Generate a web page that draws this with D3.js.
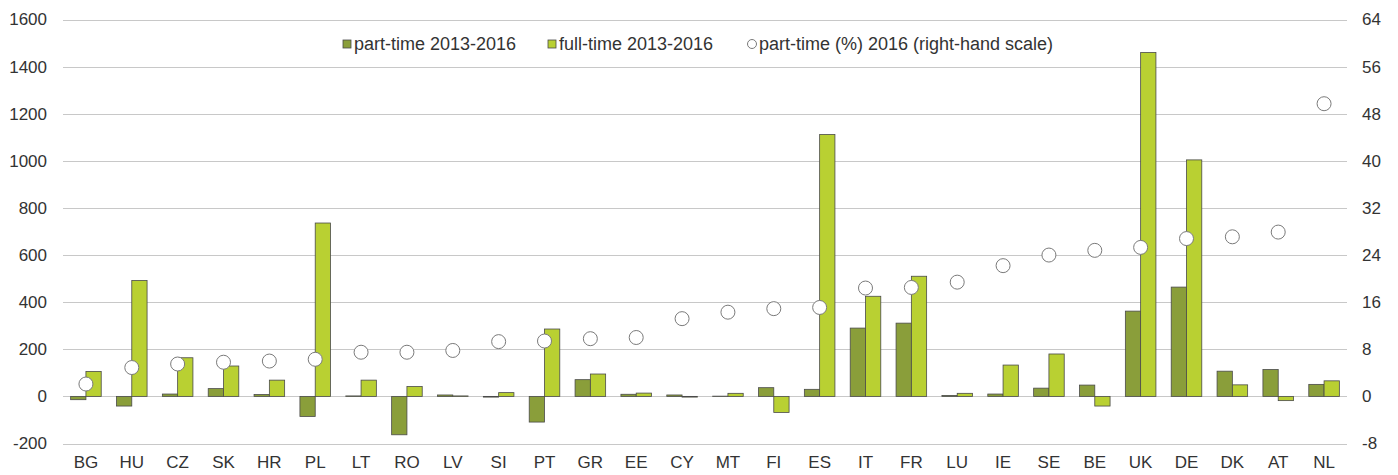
<!DOCTYPE html>
<html>
<head>
<meta charset="utf-8">
<script src="https://cdn.jsdelivr.net/npm/d3@7"></script>
<style>
  body { margin: 0; background: #fff; }
  text { font-family: "Liberation Sans", Arial, sans-serif; fill: #333; }
</style>
</head>
<body>
<div id="chart"></div>
<script>
// categories and series
var countries = ["BG", "HU", "CZ", "SK", "HR", "PL", "LT", "RO", "LV", "SI", "PT", "GR", "EE", "CY",
    "MT", "FI", "ES", "IT", "FR", "LU", "IE", "SE", "BE", "UK", "DE", "DK", "AT", "NL"];
var partTime = [-14, -41, 10, 33, 8, -85, 2, -163, 6, -3, -109, 71, 9, 6,
    1, 37, 30, 290, 311, 4, 10, 35, 48, 362, 464, 107, 114, 51];
var fullTime = [106, 492, 164, 129, 69, 736, 69, 42, 2, 16, 286, 95, 14, -3,
    13, -68, 1112, 425, 510, 13, 133, 180, -41, 1460, 1004, 49, -18, 66];
var partShare = [2.1, 4.9, 5.5, 5.8, 6.0, 6.3, 7.5, 7.5, 7.8, 9.3, 9.4, 9.8, 10.0, 13.2,
    14.3, 14.9, 15.1, 18.4, 18.5, 19.4, 22.2, 24.0, 24.8, 25.3, 26.8, 27.1, 27.9, 49.7];
var leftTicks = [-200, 0, 200, 400, 600, 800, 1000, 1200, 1400, 1600];
var rightTicks = [-8, 0, 8, 16, 24, 32, 40, 48, 56, 64];
var seriesNames = ["part-time 2013-2016", "full-time 2013-2016", "part-time (%) 2016 (right-hand scale)"];

var W = 1398, H = 475;
var mLeft = 63, mRight = 1347, mTop = 19.5, mBottom = 443.5;
var colors = { part: "#8a9e3a", full: "#b9d032" };

var svg = d3.select("#chart").append("svg").attr("width", W).attr("height", H);

var x = d3.scaleBand().domain(countries).range([mLeft, mRight]).paddingInner(1 / 3).paddingOuter(1 / 6);
var x1 = d3.scaleBand().domain(["part", "full"]).range([0, x.bandwidth()]);
var y = d3.scaleLinear().domain([-200, 1600]).range([mBottom, mTop]);
var y2 = d3.scaleLinear().domain([-8, 64]).range([mBottom, mTop]);

// gridlines
svg.append("g").selectAll("line").data(leftTicks).enter().append("line")
    .attr("x1", mLeft).attr("x2", mRight)
    .attr("y1", function (d) { return Math.round(y(d)) + 0.5; })
    .attr("y2", function (d) { return Math.round(y(d)) + 0.5; })
    .attr("stroke", "#c8c8c8").attr("stroke-width", 1);

// left axis (plain hyphen for negatives, like the original)
var ya = svg.append("g").attr("transform", "translate(" + (mLeft - 16) + ",0)")
    .call(d3.axisLeft(y).tickValues(leftTicks).tickFormat(String).tickSize(0).tickPadding(0));
ya.select(".domain").remove();
ya.selectAll("text").style("font-size", "17px").attr("fill", "#333").attr("font-family", null);

// right axis
var yb = svg.append("g").attr("transform", "translate(" + (mRight + 15) + ",0)")
    .call(d3.axisRight(y2).tickValues(rightTicks).tickFormat(String).tickSize(0).tickPadding(0));
yb.select(".domain").remove();
yb.selectAll("text").style("font-size", "17px").attr("fill", "#333").attr("font-family", null);

// x labels
var xa = svg.append("g").attr("transform", "translate(0," + (mBottom + 12) + ")")
    .call(d3.axisBottom(x).tickSize(0).tickPadding(0));
xa.select(".domain").remove();
xa.selectAll("text").style("font-size", "17px").attr("fill", "#333").attr("font-family", null);

// bars
var rows = countries.map(function (c, i) {
    return { c: c, part: partTime[i], full: fullTime[i], share: partShare[i] };
});

var groups = svg.append("g").selectAll("g").data(rows).enter().append("g")
    .attr("transform", function (d) { return "translate(" + x(d.c) + ",0)"; });

groups.selectAll("rect").data(function (d) {
    return [{ k: "part", v: d.part }, { k: "full", v: d.full }];
}).enter().append("rect")
    .attr("x", function (d) { return x1(d.k); })
    .attr("width", x1.bandwidth())
    .attr("y", function (d) { return y(Math.max(0, d.v)); })
    .attr("height", function (d) { return Math.abs(y(d.v) - y(0)); })
    .attr("fill", function (d) { return colors[d.k]; })
    .attr("stroke", "#4a4a4a").attr("stroke-width", 0.8);

// circles on right-hand scale
svg.append("g").selectAll("circle").data(rows).enter().append("circle")
    .attr("cx", function (d) { return x(d.c) + x.bandwidth() / 2; })
    .attr("cy", function (d) { return y2(d.share); })
    .attr("r", 7)
    .attr("fill", "#fff").attr("stroke", "#7a7a7a").attr("stroke-width", 1);

// legend
var legend = svg.append("g").attr("transform", "translate(0,44)");
var lx = [343, 548, 748];
legend.append("rect").attr("x", lx[0]).attr("y", -4).attr("width", 8).attr("height", 8)
    .attr("fill", colors.part).attr("stroke", "#4a4a4a").attr("stroke-width", 0.8);
legend.append("rect").attr("x", lx[1]).attr("y", -4).attr("width", 8).attr("height", 8)
    .attr("fill", colors.full).attr("stroke", "#4a4a4a").attr("stroke-width", 0.8);
legend.append("circle").attr("cx", lx[2] + 4).attr("cy", 0).attr("r", 4.5)
    .attr("fill", "#fff").attr("stroke", "#7a7a7a");
legend.selectAll("text").data(seriesNames).enter().append("text")
    .attr("x", function (d, i) { return lx[i] + 11; })
    .attr("y", 0).attr("dy", "0.35em")
    .style("font-size", "18px")
    .text(function (d) { return d; });
</script>
</body>
</html>
